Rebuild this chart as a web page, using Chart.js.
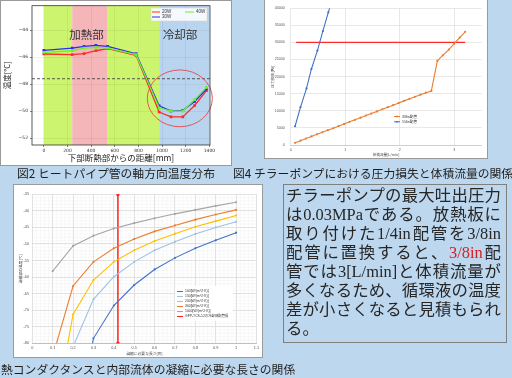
<!DOCTYPE html>
<html lang="ja">
<head>
<meta charset="utf-8">
<title>ヒートパイプ・チラーポンプ</title>
<script src="https://cdn.jsdelivr.net/npm/chart.js@4.4.1/dist/chart.umd.min.js"></script>
<style>
  html, body { margin: 0; padding: 0; }
  body { width: 512px; height: 378px; position: relative; overflow: hidden; background: #bdd7ee; font-family: "Noto Sans CJK JP", sans-serif; }
  .panel { position: absolute; background: #fff; outline: 1px solid #9a9a9a; }
  .panel canvas { display: block; }
  .cap { position: absolute; font-size: 11.8px; line-height: 14px; color: #1e1e1e; white-space: nowrap; }
  #note { position: absolute; left: 283px; top: 184px; width: 224px; height: 159px; box-sizing: border-box;
          border: 1px solid #7f7f7f; padding: 0.5px 5px 0 2px; color: #262626;
          font-family: "Liberation Serif", "Noto Sans CJK JP", serif; font-size: 16.4px; }
  #note div { height: 19px; line-height: 19px; text-align: justify; text-align-last: justify; }
  #note div.last { text-align-last: left; }
  #note .red { color: #d81e1e; }
</style>
</head>
<body>

<div class="panel" style="left:1px;top:1px;width:230px;height:164px;"><canvas id="tempChart" width="230" height="164"></canvas></div>
<div class="panel" style="left:265px;top:0;width:222px;height:158px;"><canvas id="pumpChart" width="222" height="158"></canvas></div>
<div class="panel" style="left:14px;top:185px;width:248px;height:172px;"><canvas id="condChart" width="248" height="172"></canvas></div>

<div class="cap" style="left:17px;top:166px;">図2 ヒートパイプ管の軸方向温度分布</div>
<div class="cap" style="left:233px;top:166px;">図4 チラーポンプにおける圧力損失と体積流量の関係</div>
<div class="cap" style="left:1px;top:362px;">熱コンダクタンスと内部流体の凝縮に必要な長さの関係</div>

<div id="note">
  <div>チラーポンプの最大吐出圧力</div>
  <div>は0.03MPaである。放熱板に</div>
  <div>取り付けた1/4in配管を3/8in</div>
  <div>配管に置換すると、<span class="red">3/8in</span>配</div>
  <div>管では3[L/min]と体積流量が</div>
  <div>多くなるため、循環液の温度</div>
  <div>差が小さくなると見積もられ</div>
  <div class="last">る。</div>
</div>

<script>
// 図2 ヒートパイプ管の軸方向温度分布
const distMm  = [0, 240, 340, 440, 540, 780, 975, 1075, 1175, 1275, 1375];
const temp20W = [-45.77, -45.82, -45.75, -45.53, -45.38, -45.87, -50.06, -50.42, -50.42, -49.58, -48.48];
const temp30W = [-45.50, -45.33, -45.20, -45.14, -45.20, -45.75, -49.60, -50.00, -49.94, -49.28, -48.36];
const temp40W = [-45.65, -45.53, -45.33, -45.28, -45.33, -45.82, -49.75, -50.00, -49.99, -49.14, -48.24];
const distTicks = [0, 200, 400, 600, 800, 1000, 1200, 1400];
const tempTicks = [-52, -50, -48, -46, -44];
const sectionEdges = [0, 240, 540, 975, 1400];
const sectionNames = ['', '加熱部', '', '冷却部'];
const refTemp = -47.6;

// 図4 圧力損失と体積流量
const flow38 = [0.08, 0.18, 0.28, 0.38, 0.48, 0.58, 0.68, 0.78, 0.88, 0.98, 1.08, 1.18, 1.28, 1.38, 1.48, 1.58,
                1.68, 1.78, 1.88, 1.98, 2.08, 2.18, 2.28, 2.38, 2.48, 2.58, 2.69, 2.79, 2.90, 3.00, 3.10, 3.20];
const loss38 = [650, 1250, 1880, 2500, 3120, 3700, 4330, 4900, 5550, 6150, 6780, 7350, 7980, 8600, 9200, 9800,
                10450, 11050, 11650, 12250, 12900, 13500, 14100, 14700, 15300, 15800, 24600, 26200, 27900, 29600, 31400, 33100];
const flow14 = [0.08, 0.18, 0.29, 0.38, 0.49, 0.59, 0.69, 0.79];
const loss14 = [5480, 11060, 16550, 22220, 27600, 33290, 38770, 44200];
const pumpMaxPa = 30000;
const pumpFlowSpan = [0.1, 3.2];
const flowTicks = [0, 1, 2, 3];
const lossTicks = [0, 5000, 10000, 15000, 20000, 25000, 30000, 35000, 40000];

// 図3 熱コンダクタンスと凝縮に必要な長さ
const condLen = [0.1, 0.2, 0.3, 0.4, 0.5, 0.6, 0.7, 0.8, 0.9, 1.0];
const tc100  = [null, -110, -78.5, -68.6, -62.4, -57.7, -54.2, -51.3, -48.9, -46.6];
const tc150  = [null, -81, -66.7, -59.9, -55.4, -51.9, -49.3, -47.0, -45.0, -43.3];
const tc200  = [-105, -71.3, -60.9, -55.4, -51.9, -49.1, -46.9, -44.8, -43.1, -41.4];
const tc300  = [-84, -62.7, -55.4, -51.3, -48.5, -46.2, -44.4, -42.65, -41.1, -39.7];
const tc1000 = [-58.2, -50.6, -47.5, -45.3, -43.7, -42.25, -40.9, -39.7, -38.5, -37.4];
const condNames = ['100[W/(m^2·K)]', '150[W/(m^2·K)]', '200[W/(m^2·K)]', '300[W/(m^2·K)]', '1000[W/(m^2·K)]', 'GFP-TCS-12の冷却部配管長'];
const coolLenM = 0.42;
const lenTicks = [0, 0.1, 0.2, 0.3, 0.4, 0.5, 0.6, 0.7, 0.8, 0.9, 1, 1.1];
const condTicks = [-80, -75, -70, -65, -60, -55, -50, -45, -40, -35];

Chart.defaults.animation = false;
Chart.defaults.responsive = false;
Chart.defaults.plugins.legend.display = false;
Chart.defaults.plugins.tooltip.enabled = false;
Chart.defaults.font.family = '"Liberation Sans", "Noto Sans CJK JP", sans-serif';

const pts = (xs, ys) => xs.map((x, i) => ({ x, y: ys[i] }));
const fixSize = n => s => { if (s.isHorizontal()) s.height = n; else s.width = n; };
const useTicks = list => s => { s.ticks = list.map(v => ({ value: v })); };
const plain = v => String(v);
const jpFont = '"Noto Sans CJK JP", sans-serif';

function legendLine(ctx, x, y, len, color, label, size, marker) {
  ctx.save();
  ctx.strokeStyle = color; ctx.lineWidth = 1;
  ctx.beginPath(); ctx.moveTo(x, y); ctx.lineTo(x + len, y); ctx.stroke();
  if (marker) {
    ctx.fillStyle = color;
    ctx.beginPath(); ctx.arc(x + len / 2, y, marker, 0, Math.PI * 2); ctx.fill();
  }
  ctx.fillStyle = '#333';
  ctx.font = size + 'px "Liberation Sans", "Noto Sans CJK JP", sans-serif';
  ctx.textBaseline = 'middle';
  ctx.fillText(label, x + len + 2, y);
  ctx.restore();
}

// ---------- 図2 ----------
const sectionColors = ['#cdf46e', '#f4b6b8', '#cdf46e', '#b9d4ef'];

const sectionPlugin = {
  id: 'sections',
  beforeDraw(chart) {
    const { ctx, chartArea: a, scales: { x } } = chart;
    ctx.save();
    sectionColors.forEach((c, i) => {
      const x0 = x.getPixelForValue(sectionEdges[i]);
      const x1 = x.getPixelForValue(sectionEdges[i + 1]);
      ctx.fillStyle = c;
      ctx.fillRect(x0, a.top, x1 - x0, a.bottom - a.top);
    });
    ctx.restore();
  },
  beforeDatasetsDraw(chart) {
    const { ctx, scales: { x, y } } = chart;
    const at = [null, { x: 360, y: -44.35 }, null, { x: 1152, y: -44.35 }];
    ctx.save();
    ctx.fillStyle = '#333';
    ctx.font = '11.5px ' + jpFont;
    ctx.textAlign = 'center';
    ctx.textBaseline = 'middle';
    sectionNames.forEach((name, i) => {
      if (name) ctx.fillText(name, x.getPixelForValue(at[i].x), y.getPixelForValue(at[i].y));
    });
    ctx.restore();
  },
  afterDatasetsDraw(chart) {
    const { ctx, chartArea: a, scales: { x, y } } = chart;
    ctx.save();
    // 冷却部を囲む赤丸
    const cx = x.getPixelForValue(1150), cy = y.getPixelForValue(-49.05);
    const rx = x.getPixelForValue(1150 + 275) - cx, ry = cy - y.getPixelForValue(-49.05 + 2.1);
    ctx.strokeStyle = '#e8474a'; ctx.lineWidth = 0.9;
    ctx.beginPath(); ctx.ellipse(cx, cy, rx, ry, 0, 0, Math.PI * 2); ctx.stroke();
    // 枠
    ctx.strokeStyle = '#333'; ctx.lineWidth = 0.8;
    ctx.strokeRect(a.left, a.top, a.right - a.left, a.bottom - a.top);
    // 凡例
    ctx.fillStyle = 'rgba(255,255,255,0.85)'; ctx.strokeStyle = '#d8d8d8'; ctx.lineWidth = 0.6;
    ctx.fillRect(150, 7, 56, 13); ctx.strokeRect(150, 7, 56, 13);
    ctx.restore();
    legendLine(ctx, 151, 11, 8, '#ff2a2a', '20W', 4.5);
    legendLine(ctx, 151, 16, 8, '#2b2bff', '30W', 4.5);
    legendLine(ctx, 184, 11, 9, '#6cf22c', '40W', 4.5);
  }
};

new Chart(document.getElementById('tempChart'), {
  type: 'line',
  data: {
    datasets: [
      { label: '20W', data: pts(distMm, temp20W), borderColor: '#ff2a2a', backgroundColor: '#ff2a2a', order: 3 },
      { label: '30W', data: pts(distMm, temp30W), borderColor: '#2b2bff', backgroundColor: '#2b2bff', order: 2 },
      { label: '40W', data: pts(distMm, temp40W), borderColor: '#6cf22c', backgroundColor: '#6cf22c', order: 1 },
      { label: 'ref', data: [{ x: -100, y: refTemp }, { x: 1405, y: refTemp }], borderColor: '#333',
        borderDash: [3, 2], borderWidth: 0.8, pointRadius: 0, order: 0 }
    ]
  },
  options: {
    layout: { padding: { top: 2, right: 21, left: 0, bottom: 0 } },
    elements: { line: { borderWidth: 1.3, tension: 0 }, point: { radius: 1.9, pointStyle: 'rect', borderWidth: 0 } },
    scales: {
      x: {
        type: 'linear', min: -100, max: 1405,
        afterBuildTicks: useTicks(distTicks), afterFit: fixSize(20),
        ticks: { font: { size: 4.5, family: '"DejaVu Sans"' }, color: '#333', padding: 1, maxRotation: 0, callback: plain },
        grid: { color: 'rgba(0,0,0,0.09)', lineWidth: 0.6, tickLength: 2, tickColor: '#333', tickWidth: 0.6 },
        border: { display: false },
        title: { display: true, text: '下部断熱部からの距離[mm]', color: '#222', font: { size: 8.5, family: jpFont }, padding: { top: 0, bottom: 2 } }
      },
      y: {
        min: -52.5, max: -42.2,
        afterBuildTicks: useTicks(tempTicks), afterFit: fixSize(31),
        ticks: { font: { size: 4.5, family: '"DejaVu Sans"' }, color: '#333', padding: 2,
                 callback: v => String(v).replace('-', '−') },
        grid: { color: 'rgba(0,0,0,0.09)', lineWidth: 0.6, tickLength: 2, tickColor: '#333', tickWidth: 0.6 },
        border: { display: false },
        title: { display: true, text: '温度[°C]', color: '#222', font: { size: 7.5, family: jpFont }, padding: { top: 2, bottom: 0 } }
      }
    }
  },
  plugins: [sectionPlugin]
});

// ---------- 図4 ----------
const pumpLegend = {
  id: 'pumpLegend',
  afterDatasetsDraw(chart) {
    legendLine(chart.ctx, 129, 116.5, 6, '#ed7d31', '3/8in配管', 3.6, 0.9);
    legendLine(chart.ctx, 129, 121.8, 6, '#4472c4', '1/4in配管', 3.6, 0.9);
  }
};

new Chart(document.getElementById('pumpChart'), {
  type: 'line',
  data: {
    datasets: [
      { label: '3/8in配管', data: pts(flow38, loss38), borderColor: '#ed7d31', backgroundColor: '#ed7d31' },
      { label: '1/4in配管', data: pts(flow14, loss14), borderColor: '#4472c4', backgroundColor: '#4472c4' },
      { label: '最大吐出圧力', data: pts(pumpFlowSpan, [pumpMaxPa, pumpMaxPa]), borderColor: '#ff2b2b', pointRadius: 0, borderWidth: 1.2 }
    ]
  },
  options: {
    layout: { padding: { top: 4, right: 5.5, left: 0, bottom: 0 } },
    elements: { line: { borderWidth: 1.1, tension: 0 }, point: { radius: 1.1, borderWidth: 0 } },
    scales: {
      x: {
        type: 'linear', min: 0, max: 3.5,
        afterBuildTicks: useTicks(flowTicks), afterFit: fixSize(13),
        ticks: { font: { size: 3.6 }, color: '#555', padding: 2.5, maxRotation: 0, callback: plain },
        grid: { color: '#dedede', lineWidth: 0.7, drawTicks: false },
        border: { color: '#cfcfcf' },
        title: { display: true, text: '体積流量[L/min]', color: '#444', font: { size: 3.6, family: jpFont }, padding: { top: 0, bottom: 1 } }
      },
      y: {
        min: 0, max: 40000,
        afterBuildTicks: useTicks(lossTicks), afterFit: fixSize(25.7),
        ticks: { font: { size: 3.6 }, color: '#555', padding: 6, callback: plain },
        grid: { color: '#dedede', lineWidth: 0.7, drawTicks: false },
        border: { display: false },
        title: { display: true, text: '圧力損失[Pa]', color: '#444', font: { size: 3.8, family: jpFont }, padding: { top: 5, bottom: 0 } }
      }
    }
  },
  plugins: [pumpLegend]
});

// ---------- 図3 ----------
const condColors = ['#4472c4', '#9dc3e6', '#ffc000', '#ed7d31', '#a5a5a5', '#ff2020'];

const condGrid = {
  id: 'condGrid',
  beforeDraw(chart) {
    const { ctx, chartArea: a, scales: { x, y } } = chart;
    ctx.save();
    ctx.strokeStyle = '#f0f0f0'; ctx.lineWidth = 0.5;
    ctx.beginPath();
    for (let i = 0; i <= 55; i++) {
      const px = x.getPixelForValue(i * 0.02);
      ctx.moveTo(px, a.top); ctx.lineTo(px, a.bottom);
    }
    for (let v = -80; v <= -35; v++) {
      const py = y.getPixelForValue(v);
      ctx.moveTo(a.left, py); ctx.lineTo(a.right, py);
    }
    ctx.stroke();
    ctx.restore();
  },
  afterDatasetsDraw(chart) {
    const { ctx } = chart;
    ctx.save();
    ctx.fillStyle = '#fff';
    ctx.fillRect(161, 101, 58, 35);
    ctx.restore();
    condNames.forEach((name, i) => legendLine(ctx, 163, 106.5 + i * 5, 6, condColors[i], name, 3.4, 0.8));
  }
};

const condSet = (label, ys, color) => ({ label, data: pts(condLen, ys), borderColor: color, backgroundColor: color });

new Chart(document.getElementById('condChart'), {
  type: 'line',
  data: {
    datasets: [
      condSet(condNames[0], tc100, condColors[0]),
      condSet(condNames[1], tc150, condColors[1]),
      condSet(condNames[2], tc200, condColors[2]),
      condSet(condNames[3], tc300, condColors[3]),
      condSet(condNames[4], tc1000, condColors[4]),
      { label: condNames[5], data: [{ x: coolLenM, y: condTicks[condTicks.length - 1] }, { x: coolLenM, y: condTicks[0] }],
        borderColor: condColors[5], backgroundColor: condColors[5], borderWidth: 1.5 }
    ]
  },
  options: {
    layout: { padding: { top: 9.3, right: 2, left: 0, bottom: 0 } },
    elements: { line: { borderWidth: 1.1, tension: 0 }, point: { radius: 1.1, borderWidth: 0 } },
    scales: {
      x: {
        type: 'linear', min: 0, max: 1.1,
        afterBuildTicks: useTicks(lenTicks), afterFit: fixSize(13.7),
        ticks: { font: { size: 3.8 }, color: '#555', padding: 2, maxRotation: 0,
                 callback: v => String(Math.round(v * 10) / 10) },
        grid: { color: '#d9d9d9', lineWidth: 0.7, drawTicks: false },
        border: { color: '#bfbfbf' },
        title: { display: true, text: '凝縮に必要な長さ[m]', color: '#444', font: { size: 3.8, family: jpFont }, padding: { top: 0, bottom: 1.5 } }
      },
      y: {
        min: -80, max: -35,
        afterBuildTicks: useTicks(condTicks), afterFit: fixSize(18.3),
        ticks: { font: { size: 3.8 }, color: '#555', padding: 3.3 },
        grid: { color: '#d9d9d9', lineWidth: 0.7, drawTicks: false },
        border: { display: false },
        title: { display: true, text: '凝縮部の温度[°C]', color: '#444', font: { size: 3.8, family: jpFont }, padding: { top: 4, bottom: 0 } }
      }
    }
  },
  plugins: [condGrid]
});
</script>
</body>
</html>
